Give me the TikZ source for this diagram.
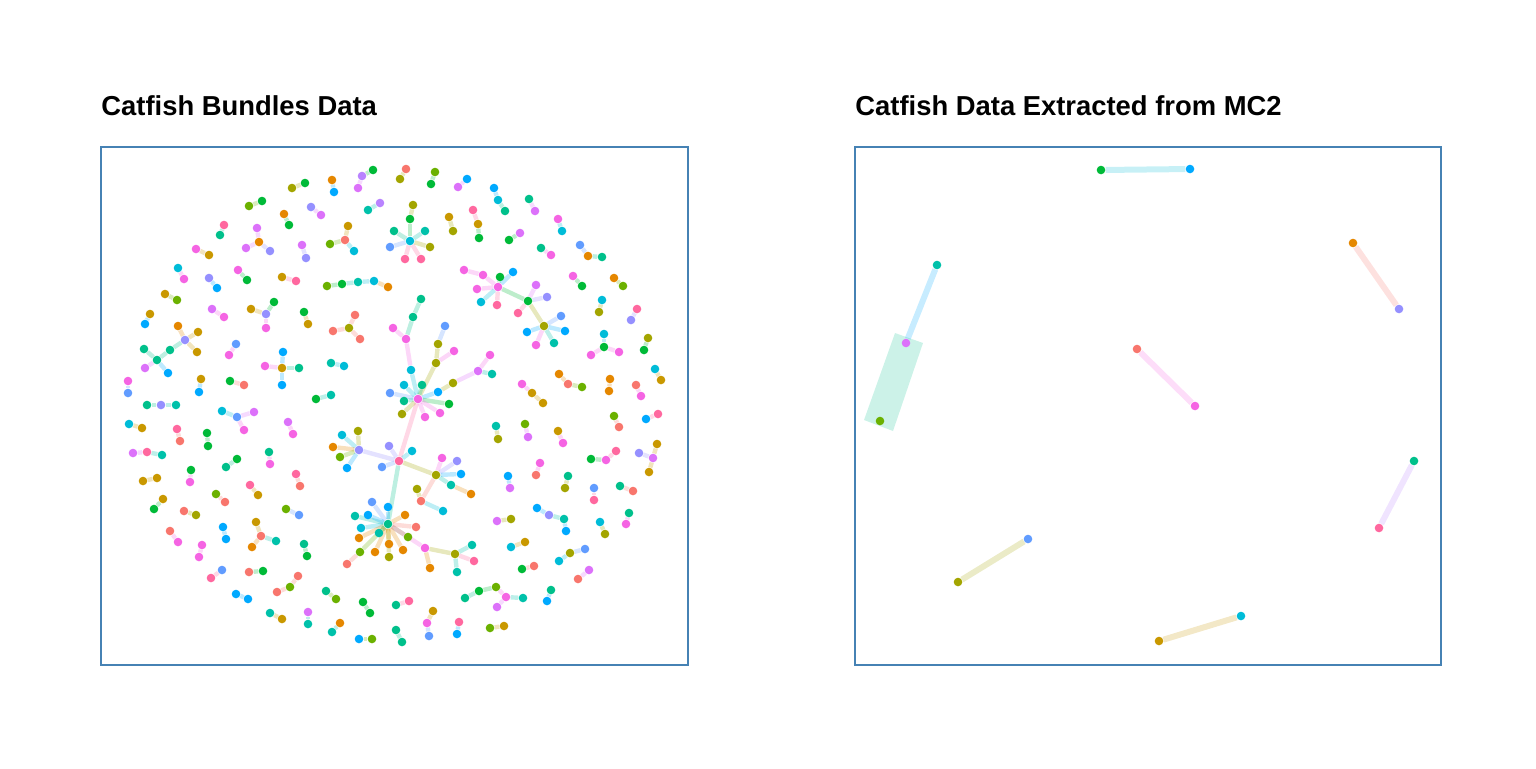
\documentclass[tikz,border=0pt]{standalone}
\usepackage{fontspec}
\setmainfont{Liberation Sans}

\definecolor{sal}{HTML}{F8766D}
\definecolor{ora}{HTML}{E58700}
\definecolor{mus}{HTML}{C99800}
\definecolor{oli}{HTML}{A3A500}
\definecolor{lim}{HTML}{6BB100}
\definecolor{grn}{HTML}{00BA38}
\definecolor{jad}{HTML}{00C08B}
\definecolor{tea}{HTML}{00C1AA}
\definecolor{cya}{HTML}{00BCD8}
\definecolor{azu}{HTML}{00A9FF}
\definecolor{per}{HTML}{619CFF}
\definecolor{lav}{HTML}{9590FF}
\definecolor{vio}{HTML}{B983FF}
\definecolor{orc}{HTML}{DC71FA}
\definecolor{mag}{HTML}{F564E3}
\definecolor{ros}{HTML}{FF689F}
\definecolor{frame}{HTML}{4682B4}

% components: x/y/colour/parent (parent 0 = root)
\def\bundles{%
{362/176/vio/0, 373/170/grn/1, 358/188/orc/1},%
{332/180/ora/0, 334/192/azu/1},%
{305/183/grn/0, 292/188/oli/1},%
{262/201/grn/0, 249/206/lim/1},%
{311/207/lav/0, 321/215/orc/1},%
{380/203/vio/0, 368/210/tea/1},%
{284/214/ora/0, 289/225/grn/1},%
{224/225/ros/0, 220/235/jad/1},%
{259/242/ora/0, 257/228/orc/1, 246/248/orc/1, 270/251/lav/1},%
{345/240/sal/0, 348/226/mus/1, 330/244/lim/1, 354/251/cya/1},%
{196/249/mag/0, 209/255/mus/1},%
{302/245/orc/0, 306/258/lav/1},%
{178/268/cya/0, 184/279/mag/1},%
{209/278/lav/0, 217/288/azu/1},%
{238/270/mag/0, 247/280/grn/1},%
{282/277/mus/0, 296/281/ros/1},%
{327/286/lim/0, 342/284/grn/1, 358/282/tea/2, 374/281/cya/3, 388/287/ora/4},%
{165/294/mus/0, 177/300/lim/1},%
{150/314/mus/0, 145/324/azu/1},%
{212/309/orc/0, 224/317/mag/1},%
{266/314/lav/0, 274/302/grn/1, 251/309/mus/1, 266/328/mag/1},%
{304/312/grn/0, 308/324/mus/1},%
{349/328/oli/0, 355/315/sal/1, 333/331/sal/1, 360/339/sal/1},%
{185/340/lav/0, 178/326/ora/1, 198/332/mus/1, 197/352/mus/1, 170/350/jad/1, 157/360/jad/5, 144/349/jad/6, 145/368/orc/6, 168/373/azu/6},%
{236/344/per/0, 229/355/mag/1},%
{282/368/mus/0, 283/352/azu/1, 265/366/mag/1, 299/368/jad/1, 282/385/azu/1},%
{331/363/tea/0, 344/366/cya/1},%
{128/381/mag/0, 128/393/per/1},%
{201/379/mus/0, 199/392/azu/1},%
{230/381/grn/0, 244/385/sal/1},%
{316/399/grn/0, 331/395/tea/1},%
{161/405/lav/0, 147/405/jad/1, 176/405/tea/1},%
{406/169/sal/0, 400/179/oli/1},%
{435/172/lim/0, 431/184/grn/1},%
{467/179/azu/0, 458/187/orc/1},%
{498/200/cya/0, 494/188/azu/1, 505/211/jad/1},%
{529/199/jad/0, 535/211/orc/1},%
{558/219/mag/0, 562/231/cya/1},%
{410/241/cya/0, 410/219/grn/1, 413/205/oli/2, 394/231/jad/1, 425/231/tea/1, 390/247/per/1, 430/247/oli/1, 405/259/ros/1, 421/259/ros/1},%
{449/217/mus/0, 453/231/oli/1},%
{478/224/mus/0, 473/210/ros/1, 479/238/grn/1},%
{520/233/orc/0, 509/240/grn/1},%
{541/248/jad/0, 551/255/mag/1},%
{588/256/ora/0, 580/245/per/1, 602/257/jad/1},%
{498/287/mag/0, 483/275/mag/1, 464/270/mag/2, 500/277/grn/1, 513/272/azu/1, 477/289/mag/1, 481/302/cya/1, 497/305/ros/1, 528/301/grn/1, 536/285/orc/9, 547/297/lav/9, 518/313/ros/9, 544/326/oli/9, 561/316/per/13, 527/332/azu/13, 565/331/azu/13, 536/345/mag/13, 554/343/tea/13},%
{573/276/mag/0, 582/286/grn/1},%
{614/278/ora/0, 623/286/lim/1},%
{602/300/cya/0, 599/312/oli/1},%
{637/309/ros/0, 631/320/lav/1},%
{604/347/grn/0, 604/334/cya/1, 591/355/mag/1, 619/352/mag/1},%
{648/338/oli/0, 644/350/grn/1},%
{655/369/cya/0, 661/380/mus/1},%
{610/379/ora/0, 609/391/ora/1},%
{636/385/sal/0, 641/396/mag/1},%
{568/384/sal/0, 559/374/ora/1, 582/387/lim/1},%
{532/393/mus/0, 522/384/mag/1, 543/403/mus/1},%
{418/399/mag/0, 411/370/cya/1, 406/339/mag/2, 393/328/mag/3, 413/317/jad/3, 421/299/jad/5, 436/363/oli/1, 438/344/oli/7, 445/326/per/8, 454/351/mag/7, 438/392/azu/1, 453/383/oli/11, 478/371/orc/12, 490/355/mag/13, 492/374/tea/13, 404/385/cya/1, 422/385/jad/1, 404/401/jad/1, 449/404/grn/1, 390/393/per/1, 402/414/oli/1, 425/417/mag/1, 440/413/mag/1, 399/461/ros/1, 412/451/cya/24, 389/446/lav/24, 382/467/per/24, 359/450/lav/24, 342/435/cya/28, 358/431/oli/28, 333/447/ora/28, 340/457/lim/28, 347/468/azu/28, 436/475/oli/24, 442/458/mag/34, 457/461/lav/34, 461/474/azu/34, 451/485/tea/34, 471/494/ora/38, 421/501/sal/34, 417/489/oli/40, 443/511/cya/40, 388/524/jad/24, 372/502/per/43, 388/507/azu/43, 355/516/tea/43, 368/515/azu/43, 361/528/cya/43, 379/533/tea/43, 359/538/ora/43, 360/552/lim/43, 347/564/sal/51, 375/552/ora/43, 389/544/ora/43, 389/557/oli/43, 405/515/ora/43, 416/527/sal/43, 408/537/lim/43, 403/550/ora/43, 425/548/mag/43, 430/568/ora/60, 455/554/oli/60, 472/545/tea/62, 474/561/ros/62, 457/572/tea/62},%
{496/426/tea/0, 498/439/oli/1},%
{525/424/lim/0, 528/437/orc/1},%
{558/431/mus/0, 563/443/mag/1},%
{614/416/lim/0, 619/427/sal/1},%
{646/419/azu/0, 658/414/ros/1},%
{510/488/orc/0, 508/476/azu/1},%
{536/475/sal/0, 540/463/mag/1},%
{568/476/jad/0, 565/488/oli/1},%
{606/460/mag/0, 591/459/grn/1, 616/451/ros/1},%
{653/458/orc/0, 639/453/lav/1, 657/444/mus/1, 649/472/mus/1},%
{594/488/per/0, 594/500/ros/1},%
{620/486/jad/0, 633/491/sal/1},%
{497/521/orc/0, 511/519/oli/1},%
{549/515/lav/0, 537/508/azu/1, 564/519/tea/1, 566/531/azu/3},%
{600/522/cya/0, 605/534/oli/1},%
{629/513/jad/0, 626/524/mag/1},%
{511/547/cya/0, 525/542/mus/1},%
{570/553/oli/0, 559/561/cya/1, 585/549/per/1},%
{522/569/grn/0, 534/566/sal/1},%
{578/579/sal/0, 589/570/orc/1},%
{496/587/lim/0, 479/591/grn/1, 465/598/jad/2, 506/597/mag/1, 523/598/tea/4, 497/607/orc/4},%
{551/590/jad/0, 547/601/azu/1},%
{396/605/jad/0, 409/601/ros/1},%
{427/623/mag/0, 433/611/mus/1, 429/636/per/1},%
{459/622/ros/0, 457/634/azu/1},%
{490/628/lim/0, 504/626/mus/1},%
{396/630/jad/0, 402/642/jad/1},%
{237/417/per/0, 222/411/cya/1, 254/412/orc/1, 244/430/mag/1},%
{288/422/orc/0, 293/434/mag/1},%
{129/424/cya/0, 142/428/mus/1},%
{177/429/ros/0, 180/441/sal/1},%
{207/433/grn/0, 208/446/grn/1},%
{147/452/ros/0, 133/453/orc/1, 162/455/tea/1},%
{237/459/grn/0, 226/467/jad/1},%
{269/452/jad/0, 270/464/mag/1},%
{191/470/grn/0, 190/482/mag/1},%
{143/481/mus/0, 157/478/mus/1},%
{296/474/ros/0, 300/486/sal/1},%
{250/485/ros/0, 258/495/mus/1},%
{216/494/lim/0, 225/502/sal/1},%
{163/499/mus/0, 154/509/grn/1},%
{184/511/sal/0, 196/515/oli/1},%
{286/509/lim/0, 299/515/per/1},%
{170/531/sal/0, 178/542/mag/1},%
{223/527/azu/0, 226/539/azu/1},%
{261/536/sal/0, 256/522/mus/1, 252/547/ora/1, 276/541/tea/1},%
{202/545/mag/0, 199/557/mag/1},%
{304/544/jad/0, 307/556/grn/1},%
{222/570/per/0, 211/578/ros/1},%
{249/572/sal/0, 263/571/grn/1},%
{290/587/lim/0, 298/576/sal/1, 277/592/sal/1},%
{236/594/azu/0, 248/599/azu/1},%
{326/591/jad/0, 336/599/lim/1},%
{363/602/grn/0, 370/613/grn/1},%
{270/613/tea/0, 282/619/mus/1},%
{308/612/orc/0, 308/624/tea/1},%
{340/623/ora/0, 332/632/tea/1},%
{359/639/azu/0, 372/639/lim/1}%
}

% x/y/colour/parent/link colour
\def\extracted{%
{1101/170/grn/0/cya, 1190/169/azu/1/cya},%
{906/343/orc/0/azu, 937/265/tea/1/azu},%
{880/421/lim/0/jad},%
{1399/309/lav/0/sal, 1353/243/ora/1/sal},%
{1137/349/sal/0/mag, 1195/406/mag/1/mag},%
{1414/461/jad/0/vio, 1379/528/ros/1/vio},%
{1028/539/per/0/oli, 958/582/oli/1/oli},%
{1241/616/cya/0/mus, 1159/641/mus/1/mus}%
}

\begin{document}
\begin{tikzpicture}[
  x=0.5pt, y=-0.5pt,
  spot/.style={circle, inner sep=0pt, minimum size=4.3pt},
  dot/.style={circle, fill, draw=none, inner sep=0pt, minimum size=4.3pt},
  link/.style={line width=2.2pt, opacity=0.26},
  wide link/.style={line width=3pt, opacity=0.22},
  panel/.style={draw=frame, line width=0.65pt},
  title/.style={anchor=base west, inner sep=0pt, font=\fontsize{13.7}{16}\selectfont\bfseries}
]
  \useasboundingbox (0,0) rectangle (1536,768);

  % Titles
  \node[title] (tbund) at (101,115) {Catfish Bundles Data};
  \node[title] (tmc) at (855,115) {Catfish Data Extracted from MC2};

  % Frames
  \draw[panel] (101,147) rectangle (688,665);
  \draw[panel] (855,147) rectangle (1441,665);

  % Left: bundles network (positions, links, then dots on top)
  \foreach \comp [count=\k] in \bundles {
    \foreach \x/\y/\col/\p [count=\j] in \comp {
      \node[spot] (l\k-\j) at (\x,\y) {};
      \ifnum\p>0 \draw[link, draw=\col] (l\k-\p) -- (l\k-\j); \fi
    }
  }
  \foreach \comp [count=\k] in \bundles {
    \foreach \x/\y/\col/\p [count=\j] in \comp
      \node[dot, fill=\col] (ld\k-\j) at (l\k-\j) {};
  }

  % Right: extracted from MC2
  \fill[jad, opacity=0.2] (895,333) -- (923,343) -- (893,431) -- (864,420) -- cycle;
  \foreach \comp [count=\k] in \extracted {
    \foreach \x/\y/\col/\p/\lc [count=\j] in \comp {
      \node[spot] (r\k-\j) at (\x,\y) {};
      \ifnum\p>0 \draw[wide link, draw=\lc] (r\k-\p) -- (r\k-\j); \fi
    }
  }
  \foreach \comp [count=\k] in \extracted {
    \foreach \x/\y/\col/\p/\lc [count=\j] in \comp
      \node[dot, fill=\col] (rd\k-\j) at (r\k-\j) {};
  }
\end{tikzpicture}
\end{document}
